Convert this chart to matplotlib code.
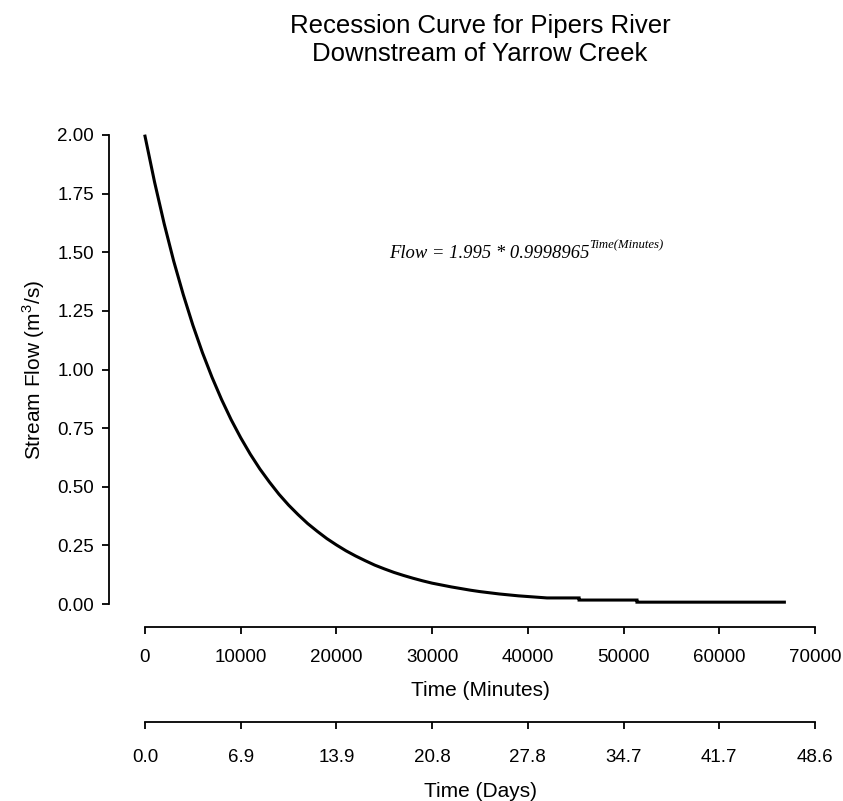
import matplotlib
matplotlib.use("Agg")
import matplotlib.pyplot as plt

plt.rcParams['font.family'] = ['Liberation Sans', 'DejaVu Sans']
plt.rcParams['mathtext.fontset'] = 'custom'
plt.rcParams['mathtext.rm'] = 'Liberation Sans'

# ---- data ----
minutes = [0, 1000, 2000, 3000, 4000, 5000, 6000, 7000, 8000, 9000,
           10000, 11000, 12000, 13000, 14000, 15000, 16000, 17000, 18000, 19000,
           20000, 21000, 22000, 23000, 24000, 25000, 26000, 27000, 28000, 29000,
           30000, 31000, 32000, 33000, 34000, 35000, 36000, 37000, 38000, 39000,
           40000, 41000, 42000, 45350, 45350, 51400, 51400, 66800]
flow = [1.995, 1.799, 1.622, 1.462, 1.319, 1.189, 1.072, 0.967, 0.872, 0.786,
        0.709, 0.639, 0.576, 0.520, 0.468, 0.422, 0.381, 0.343, 0.310, 0.279,
        0.252, 0.227, 0.205, 0.185, 0.166, 0.150, 0.135, 0.122, 0.110, 0.099,
        0.089, 0.081, 0.073, 0.066, 0.059, 0.053, 0.048, 0.043, 0.039, 0.035,
        0.032, 0.029, 0.026, 0.026, 0.017, 0.017, 0.008, 0.008]

minute_ticks = [0, 10000, 20000, 30000, 40000, 50000, 60000, 70000]
minute_labels = ['0', '10000', '20000', '30000', '40000', '50000', '60000', '70000']
day_labels = ['0.0', '6.9', '13.9', '20.8', '27.8', '34.7', '41.7', '48.6']
flow_ticks = [0.0, 0.25, 0.5, 0.75, 1.0, 1.25, 1.5, 1.75, 2.0]
flow_labels = ['0.00', '0.25', '0.50', '0.75', '1.00', '1.25', '1.50', '1.75', '2.00']

title_lines = ['Recession Curve for Pipers River', 'Downstream of Yarrow Creek']
eq_main = 'Flow = 1.995 * 0.9998965'
eq_sup = 'Time(Minutes)'

W, H = 843, 801
fig = plt.figure(figsize=(W / 100, H / 100), dpi=100)

# axes rectangle (pixels): left 118.2, right 841.8, top 116.2, bottom 622.8
L, R, T, B = 118.2, 841.8, 116.2, 622.8
ax = fig.add_axes([L / W, (H - B) / H, (R - L) / W, (B - T) / H])
ax.set_xlim(-2800, 72800)
ax.set_ylim(-0.08, 2.08)

ax.plot(minutes, flow, color='black', lw=2.2, solid_joinstyle='miter')

for s in ['top', 'right']:
    ax.spines[s].set_visible(False)
lw_sp = 1.3
TS = 13.5
LS = 15
ax.spines['left'].set_position(('outward', 6.6))
ax.spines['left'].set_bounds(0, 2.0)
ax.spines['left'].set_linewidth(lw_sp)
ax.spines['bottom'].set_position(('outward', 3.0))
ax.spines['bottom'].set_bounds(0, 70000)
ax.spines['bottom'].set_linewidth(lw_sp)

ax.set_yticks(flow_ticks)
ax.set_yticklabels(flow_labels)
ax.set_xticks(minute_ticks)
ax.set_xticklabels(minute_labels)
ax.tick_params(axis='both', direction='out', length=5, width=lw_sp, labelsize=TS, color='black')
ax.tick_params(axis='y', pad=6)
ax.tick_params(axis='x', pad=11)

ax.set_xlabel('Time (Minutes)', fontsize=LS, labelpad=11)
ax.set_ylabel('Stream Flow (m$^{\\mathregular{3}}$/s)', fontsize=LS, labelpad=7)

# second (days) axis
ax2 = ax.twiny()
ax2.set_xlim(ax.get_xlim())
ax2.xaxis.set_ticks_position('bottom')
ax2.xaxis.set_label_position('bottom')
for s in ['top', 'right', 'left']:
    ax2.spines[s].set_visible(False)
ax2.spines['bottom'].set_position(('outward', 71.3))
ax2.spines['bottom'].set_bounds(0, 70000)
ax2.spines['bottom'].set_linewidth(lw_sp)
ax2.set_xticks(minute_ticks)
ax2.set_xticklabels(day_labels)
ax2.tick_params(axis='x', direction='out', length=5, width=lw_sp, labelsize=TS, pad=14.5)
ax2.set_xlabel('Time (Days)', fontsize=LS, labelpad=11.5)
ax2.patch.set_visible(False)

# equation
t1 = ax.text(25500, 1.475, eq_main, fontsize=13.4, family='Liberation Serif',
             style='italic', ha='left', va='baseline')
ax.annotate(eq_sup, xy=(1.0, 0.62), xycoords=t1, fontsize=9.2,
            family='Liberation Serif', style='italic', ha='left', va='bottom')

# title centred over the plot region, baselines at 33 px and 61 px
cx = (L + R) / 2 / W
fig.text(cx, 1 - 33 / H, title_lines[0], ha='center', va='baseline', fontsize=18.5)
fig.text(cx, 1 - 61 / H, title_lines[1], ha='center', va='baseline', fontsize=18.5)

fig.savefig('out.png', dpi=100)
